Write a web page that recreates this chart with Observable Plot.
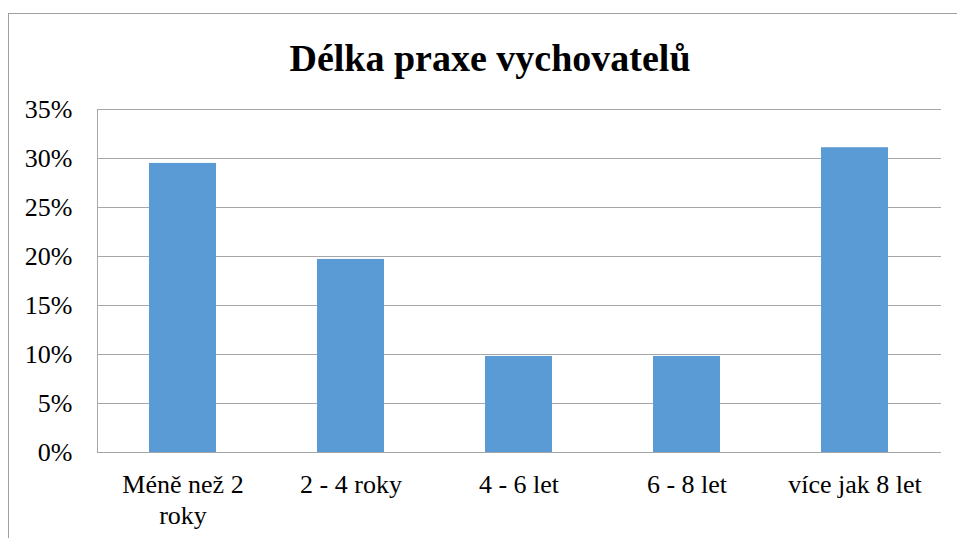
<!DOCTYPE html>
<html>
<head>
<meta charset="utf-8">
<script src="https://cdn.jsdelivr.net/npm/d3@7"></script>
<script src="https://cdn.jsdelivr.net/npm/@observablehq/plot@0.6"></script>
<style>
  html, body { margin: 0; padding: 0; background: #fff; overflow: hidden; }
  #wrap { position: relative; width: 957px; height: 538px; }
  #border { position: absolute; left: 8px; top: 13px; width: 1000px; height: 600px; border: 1px solid #a0a0a0; box-sizing: border-box; }
  #title { position: absolute; left: 0; width: 980px; top: 36px; text-align: center;
    font-family: "Liberation Serif", "Times New Roman", serif; font-weight: bold; font-size: 38px; line-height: 44px; color: #000; }
  #chart { position: absolute; left: 0; top: 0; }
  #chart svg, #chart svg text { font-family: "Liberation Serif", "Times New Roman", serif !important; }
</style>
</head>
<body>
<div id="wrap">
  <div id="border"></div>
  <div id="title">Délka praxe vychovatelů</div>
  <div id="chart"></div>
</div>
<script>
const categories = ["Méně než 2 roky", "2 - 4 roky", "4 - 6 let", "6 - 8 let", "více jak 8 let"];
const tickLabels = ["Méně než 2\nroky", "2 - 4 roky", "4 - 6 let", "6 - 8 let", "více jak 8 let"];
const values = [0.295, 0.197, 0.098, 0.098, 0.311];
const yTicks = [0, 0.05, 0.10, 0.15, 0.20, 0.25, 0.30, 0.35];

const data = categories.map((c, i) => ({category: c, value: values[i]}));
const labelOf = new Map(categories.map((c, i) => [c, tickLabels[i]]));
const font = '"Liberation Serif", "Times New Roman", serif';

const chart = Plot.plot({
  width: 957,
  height: 538,
  marginLeft: 97,
  marginRight: 16,
  marginTop: 109,
  marginBottom: 86,
  style: {fontFamily: font, fontSize: "26px", color: "#000", background: "transparent", overflow: "visible"},
  x: {domain: categories, paddingInner: 0.6, paddingOuter: 0.3, label: null},
  y: {domain: [0, 0.35], label: null},
  marks: [
    Plot.gridY(yTicks, {stroke: "#a6a6a6", strokeOpacity: 1, strokeWidth: 1}),
    Plot.frame({anchor: "left", stroke: "#a6a6a6", strokeWidth: 1}),
    Plot.barY(data, {x: "category", y: "value", fill: "#5b9bd5"}),
    Plot.axisY(yTicks, {tickSize: 0, tickPadding: 25, tickFormat: d => Math.round(d * 100) + "%", fontSize: 26, fontFamily: font, label: null}),
    Plot.axisX({tickSize: 0, tickPadding: 19, tickFormat: d => labelOf.get(d), fontSize: 26, fontFamily: font, lineHeight: 1.18, label: null})
  ]
});
document.getElementById("chart").appendChild(chart);
</script>
</body>
</html>
